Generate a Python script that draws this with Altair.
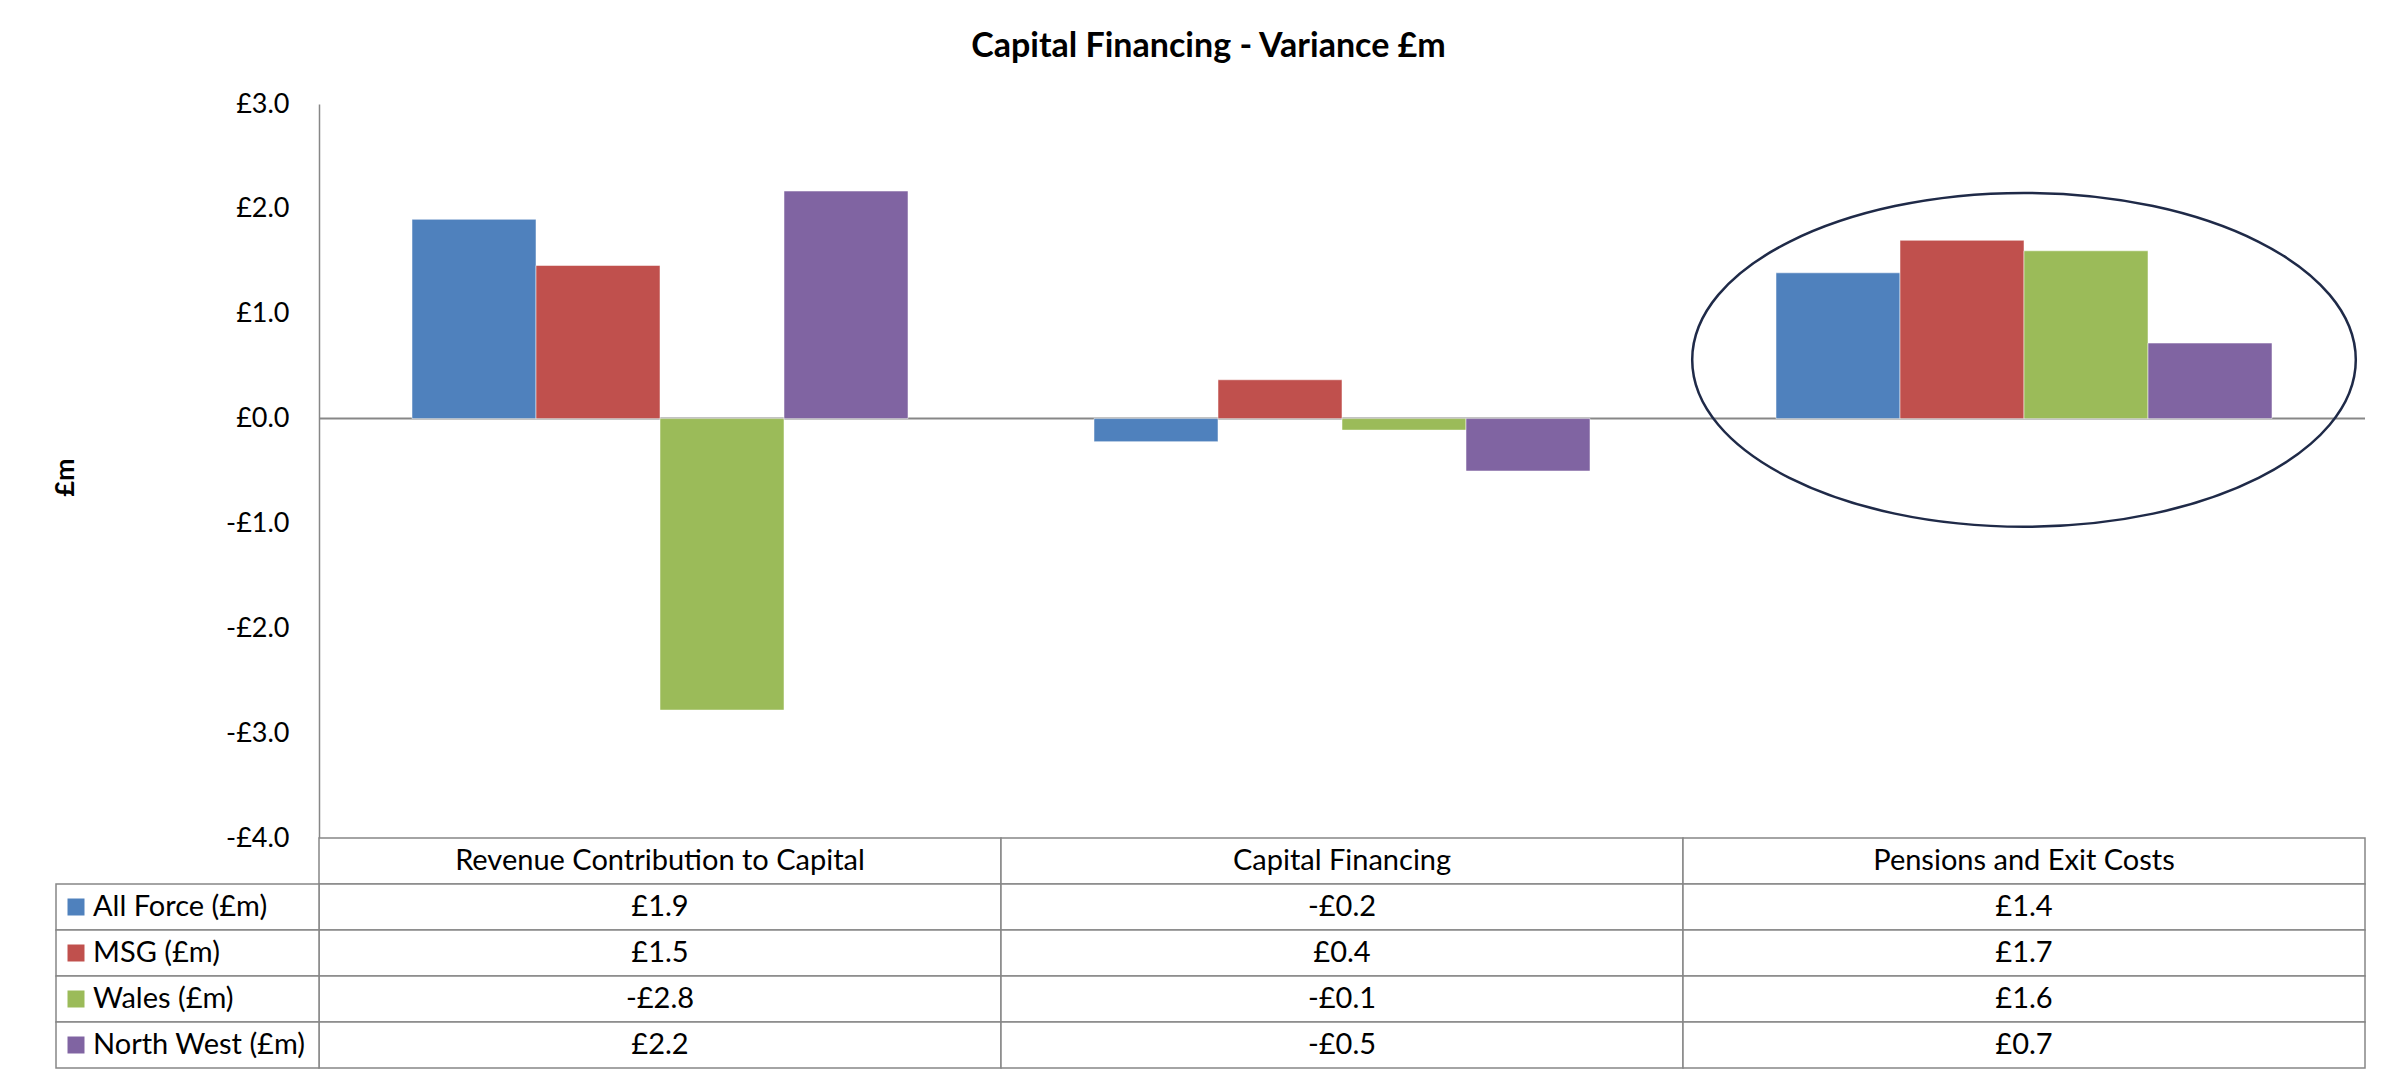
import altair as alt
import pandas as pd

# ---------------- data ----------------
categories = ["Revenue Contribution to Capital", "Capital Financing", "Pensions and Exit Costs"]
series = ["All Force (£m)", "MSG (£m)", "Wales (£m)", "North West (£m)"]
colors = ["#4F81BD", "#C0504D", "#9BBB59", "#8064A2"]

all_force = [1.90, -0.22, 1.39]
msg = [1.46, 0.37, 1.70]
wales = [-2.78, -0.11, 1.60]
north_west = [2.17, -0.50, 0.72]

y_ticks = [-4, -3, -2, -1, 0, 1, 2, 3]
highlight_category = "Pensions and Exit Costs"
highlight_center = 0.56

values_by_series = [all_force, msg, wales, north_west]
df = pd.DataFrame(
    [
        {"category": c, "series": s, "value": v}
        for s, vals in zip(series, values_by_series)
        for c, v in zip(categories, vals)
    ]
)

rows = ["header"] + series
cell_df = pd.DataFrame([{"category": c, "row": r} for c in categories for r in rows])
header_df = pd.DataFrame({"category": categories, "row": ["header"] * len(categories)})
legend_df = pd.DataFrame({"series": series, "row": series})
zero_df = pd.DataFrame({"y": [0]})
ellipse_df = pd.DataFrame({"category": [highlight_category], "y": [highlight_center]})

# ---------------- style ----------------
FONT = "Lato"
GRAY = "#878787"
W = 2046
H = 734
ROW_H = 46
LABEL_SIZE = 27
TABLE_SIZE = 29
money = "(datum.value < 0 ? '-' : '') + '\u00a3' + format(abs(datum.value), '.1f')"

x_scale = alt.Scale(domain=categories, paddingInner=0, paddingOuter=0)
y_scale = alt.Scale(domain=[-4, 3], nice=False, zero=False)
color_scale = alt.Scale(domain=series, range=colors)

y_axis = alt.Axis(
    values=y_ticks,
    labelExpr=money,
    labelFont=FONT,
    labelFontSize=LABEL_SIZE,
    labelColor="black",
    labelPadding=30,
    ticks=False,
    grid=False,
    domainColor=GRAY,
    domainWidth=1.5,
    title="£m",
    titleFont=FONT,
    titleFontSize=LABEL_SIZE,
    titleFontWeight="bold",
    titleColor="black",
    titleAngle=-90,
    titleX=-254,
    titleY=373,
    titleAlign="center",
    titleBaseline="middle",
)

X = alt.X("category:N", scale=x_scale, sort=categories, axis=None)
Y = alt.Y("value:Q", scale=y_scale, axis=y_axis)

zero = alt.Chart(zero_df).mark_rule(color=GRAY, strokeWidth=2).encode(
    y=alt.Y("y:Q", scale=y_scale, axis=y_axis)
)

bars = alt.Chart(df).mark_bar(stroke="white", strokeWidth=1, strokeOpacity=0.5).encode(
    x=X,
    xOffset=alt.XOffset(
        "series:N",
        sort=series,
        scale=alt.Scale(domain=series, paddingInner=0, paddingOuter=0.75),
    ),
    y=Y,
    color=alt.Color("series:N", scale=color_scale, legend=None),
)

ELLIPSE = "M-1,0A1,0.503,0,1,0,1,0A1,0.503,0,1,0,-1,0Z"
ellipse_w = W / len(categories) * 0.973
ellipse = alt.Chart(ellipse_df).mark_point(
    shape=ELLIPSE,
    size=ellipse_w ** 2,
    filled=False,
    color="#1F2A48",
    strokeWidth=2.5,
    opacity=1,
).encode(
    x=X,
    y=alt.Y("y:Q", scale=y_scale, axis=y_axis),
)

main = alt.layer(zero, bars, ellipse).properties(width=W, height=H)

# ---------------- data table ----------------
TY = alt.Y("row:N", scale=alt.Scale(domain=rows, paddingInner=0, paddingOuter=0), axis=None)

cells = alt.Chart(cell_df).mark_rect(fill="white", stroke=GRAY, strokeWidth=1.5).encode(x=X, y=TY)
header_text = alt.Chart(header_df).mark_text(
    font=FONT, fontSize=TABLE_SIZE, color="black"
).encode(x=X, y=TY, text="category:N")
value_text = (
    alt.Chart(df)
    .transform_calculate(row="datum.series", txt=money)
    .mark_text(font=FONT, fontSize=TABLE_SIZE, color="black")
    .encode(x=X, y=TY, text="txt:N")
)
legend_box = alt.Chart(legend_df).mark_rect(fill="white", stroke=GRAY, strokeWidth=1.5).encode(
    x=alt.value(-263), x2=alt.value(0), y=TY
)
legend_sw = alt.Chart(legend_df).mark_square(size=289, opacity=1).encode(
    x=alt.value(-243), y=TY, color=alt.Color("series:N", scale=color_scale, legend=None)
)
legend_text = alt.Chart(legend_df).mark_text(
    align="left", font=FONT, fontSize=TABLE_SIZE, color="black"
).encode(x=alt.value(-226), y=TY, text="series:N")

table = alt.layer(cells, header_text, value_text, legend_box, legend_sw, legend_text).properties(
    width=W, height=ROW_H * len(rows)
)

chart = (
    alt.vconcat(main, table, spacing=0, bounds="flush")
    .properties(
        title=alt.TitleParams(
            "Capital Financing - Variance £m",
            font=FONT,
            fontSize=34,
            fontWeight="bold",
            color="black",
            anchor="middle",
            offset=26,
        ),
        padding={"left": 43, "top": 22, "right": 5, "bottom": 5},
        background="white",
    )
    .configure_view(stroke=None)
)

chart.save("out.html", embed_options={"renderer": "svg", "actions": False})
